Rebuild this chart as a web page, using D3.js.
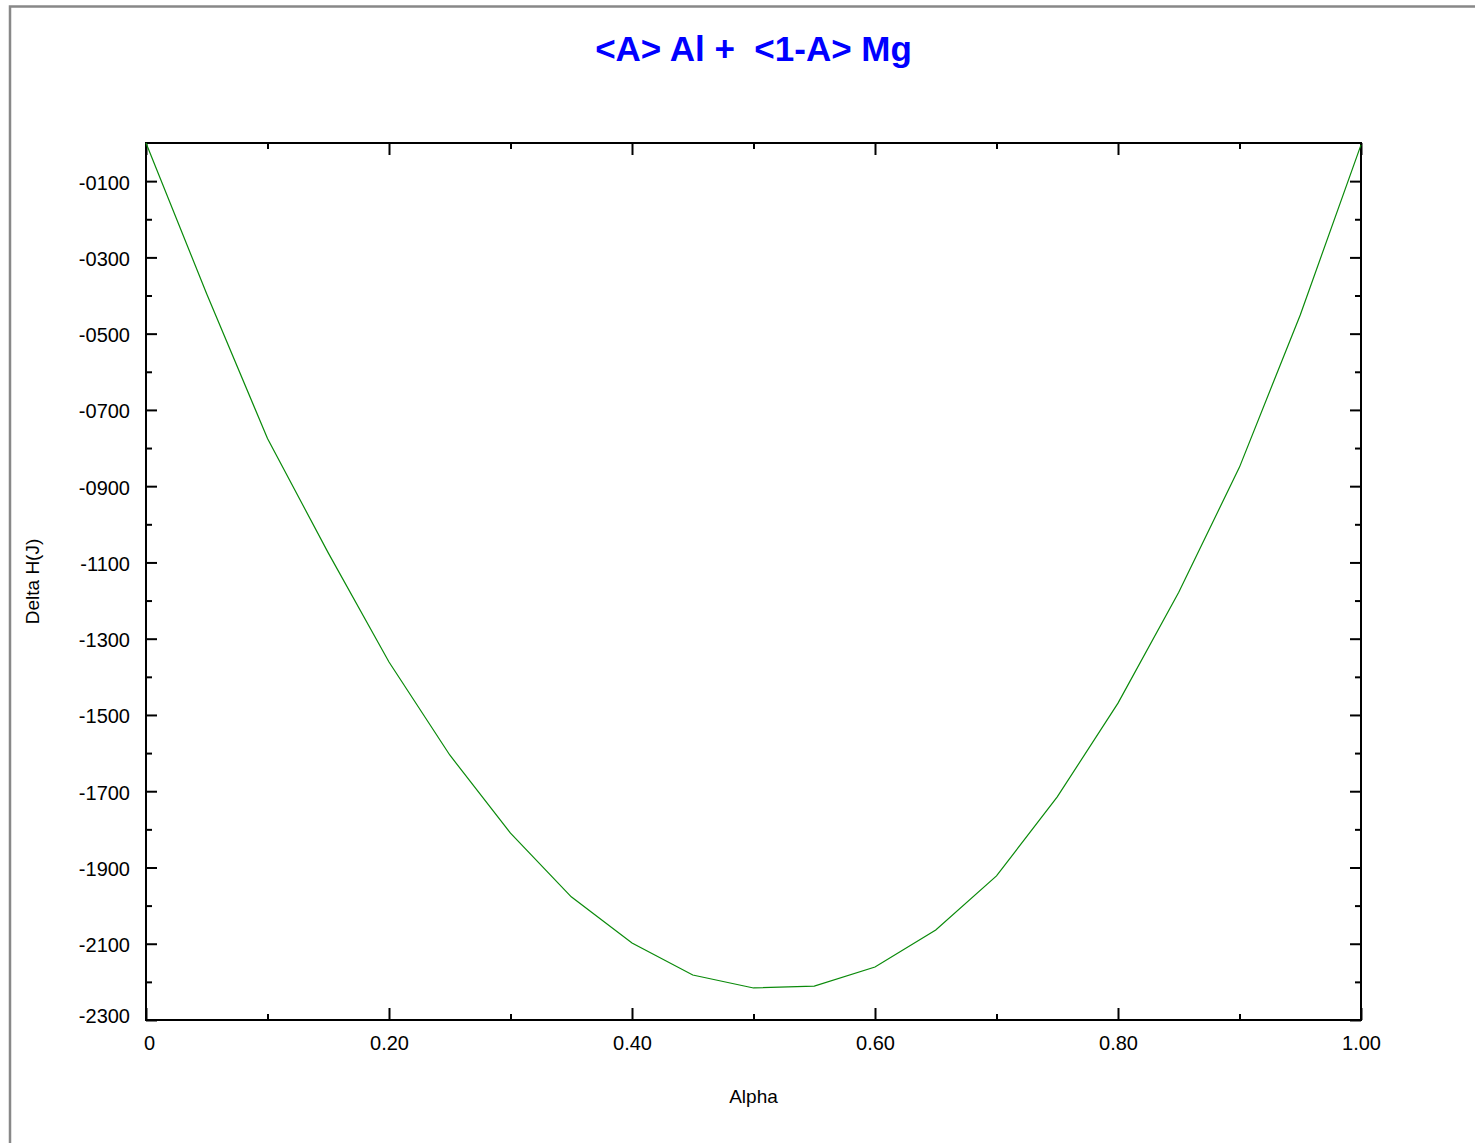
<!DOCTYPE html>
<html>
<head>
<meta charset="utf-8">
<script src="https://cdn.jsdelivr.net/npm/d3@7"></script>
<style>
  body { margin: 0; background: #fff; }
  svg { display: block; }
  text { font-family: "Liberation Sans", Arial, sans-serif; }
</style>
</head>
<body>
<svg id="chart" width="1475" height="1143"></svg>
<script>
// Mixing enthalpy of Al-Mg versus composition
const alpha = [0, 0.05, 0.10, 0.15, 0.20, 0.25, 0.30, 0.35, 0.40, 0.45, 0.50,
               0.55, 0.60, 0.65, 0.70, 0.75, 0.80, 0.85, 0.90, 0.95, 1.00];
const deltaH = [0, -396, -775, -1075, -1361, -1605, -1810, -1977, -2098, -2182, -2216,
                -2211, -2161, -2064, -1922, -1715, -1469, -1178, -850, -451, -5];

const yMajorTicks = [-100, -300, -500, -700, -900, -1100, -1300, -1500, -1700, -1900, -2100, -2300];
const yTickLabels = ["-0100", "-0300", "-0500", "-0700", "-0900", "-1100", "-1300", "-1500", "-1700", "-1900", "-2100", "-2300"];
const yMinorTicks = [-200, -400, -600, -800, -1000, -1200, -1400, -1600, -1800, -2000, -2200];
const xMajorTicks = [0, 0.2, 0.4, 0.6, 0.8, 1.0];
const xTickLabels = ["0", "0.20", "0.40", "0.60", "0.80", "1.00"];
const xMinorTicks = [0.1, 0.3, 0.5, 0.7, 0.9];

const titleText = "<A> Al +  <1-A> Mg";
const xTitle = "Alpha";
const yTitle = "Delta H(J)";

const svg = d3.select("#chart");
const W = 1475, H = 1143;
const m = { left: 146, top: 143, right: 1361, bottom: 1020 };

// window frame edges
svg.append("path")
  .attr("d", `M10,${H + 5} L10,6.5 L${W + 5},6.5`)
  .attr("fill", "none")
  .attr("stroke", "#888")
  .attr("stroke-width", 2.5);

const x = d3.scaleLinear().domain([0, 1]).range([m.left, m.right]);
const y = d3.scaleLinear().domain([-2300, 0]).range([m.bottom, m.top]);

function styleAxis(g) {
  g.select(".domain").remove();
  g.selectAll(".tick line").attr("stroke", "#000").attr("stroke-width", 2);
  g.selectAll(".tick text")
    .attr("fill", "#000")
    .style("font-size", "20px")
    .style("font-family", '"Liberation Sans", Arial, sans-serif');
}

const yLab = new Map(yMajorTicks.map((v, i) => [v, yTickLabels[i]]));
const xLab = new Map(xMajorTicks.map((v, i) => [v, xTickLabels[i]]));

// left axis (ticks pointing inward)
svg.append("g").attr("transform", `translate(${m.left},0)`)
  .call(d3.axisLeft(y).tickValues(yMajorTicks).tickSize(-11).tickPadding(16)
    .tickFormat(d => yLab.get(d)))
  .call(styleAxis)
  .call(g => g.selectAll(".tick text").attr("dy", d => d === -2300 ? "0.12em" : "0.4em"));
svg.append("g").attr("transform", `translate(${m.left},0)`)
  .call(d3.axisLeft(y).tickValues(yMinorTicks).tickSize(-6).tickFormat(""))
  .call(styleAxis);

// right axis
svg.append("g").attr("transform", `translate(${m.right},0)`)
  .call(d3.axisRight(y).tickValues(yMajorTicks).tickSize(-11).tickFormat(""))
  .call(styleAxis);
svg.append("g").attr("transform", `translate(${m.right},0)`)
  .call(d3.axisRight(y).tickValues(yMinorTicks).tickSize(-6).tickFormat(""))
  .call(styleAxis);

// bottom axis
svg.append("g").attr("transform", `translate(0,${m.bottom})`)
  .call(d3.axisBottom(x).tickValues(xMajorTicks).tickSize(-12).tickPadding(16)
    .tickFormat(d => xLab.get(d)))
  .call(styleAxis)
  .call(g => g.selectAll(".tick text").filter(d => d === 0).attr("dx", "3"));
svg.append("g").attr("transform", `translate(0,${m.bottom})`)
  .call(d3.axisBottom(x).tickValues(xMinorTicks).tickSize(-6).tickFormat(""))
  .call(styleAxis);

// top axis
svg.append("g").attr("transform", `translate(0,${m.top})`)
  .call(d3.axisTop(x).tickValues(xMajorTicks).tickSize(-12).tickFormat(""))
  .call(styleAxis);
svg.append("g").attr("transform", `translate(0,${m.top})`)
  .call(d3.axisTop(x).tickValues(xMinorTicks).tickSize(-6).tickFormat(""))
  .call(styleAxis);

// plot frame
svg.append("rect")
  .attr("x", m.left).attr("y", m.top)
  .attr("width", m.right - m.left).attr("height", m.bottom - m.top)
  .attr("fill", "none").attr("stroke", "#000").attr("stroke-width", 2);

// curve
const pts = alpha.map((a, i) => [a, deltaH[i]]);
svg.append("path")
  .datum(pts)
  .attr("fill", "none")
  .attr("stroke", "#0a8a0a")
  .attr("stroke-width", 1.2)
  .attr("d", d3.line().x(d => x(d[0])).y(d => y(d[1])));

// title
svg.append("text")
  .attr("x", (m.left + m.right) / 2).attr("y", 61)
  .attr("text-anchor", "middle")
  .attr("fill", "#0000ff")
  .style("font-size", "35px").style("font-weight", "bold")
  .style("white-space", "pre")
  .attr("xml:space", "preserve")
  .text(titleText);

// axis titles
svg.append("text")
  .attr("x", (m.left + m.right) / 2).attr("y", 1103)
  .attr("text-anchor", "middle").attr("fill", "#000")
  .style("font-size", "19px")
  .text(xTitle);

svg.append("text")
  .attr("transform", `translate(39,${(m.top + m.bottom) / 2}) rotate(-90)`)
  .attr("text-anchor", "middle").attr("fill", "#000")
  .style("font-size", "19px")
  .text(yTitle);
</script>
</body>
</html>
